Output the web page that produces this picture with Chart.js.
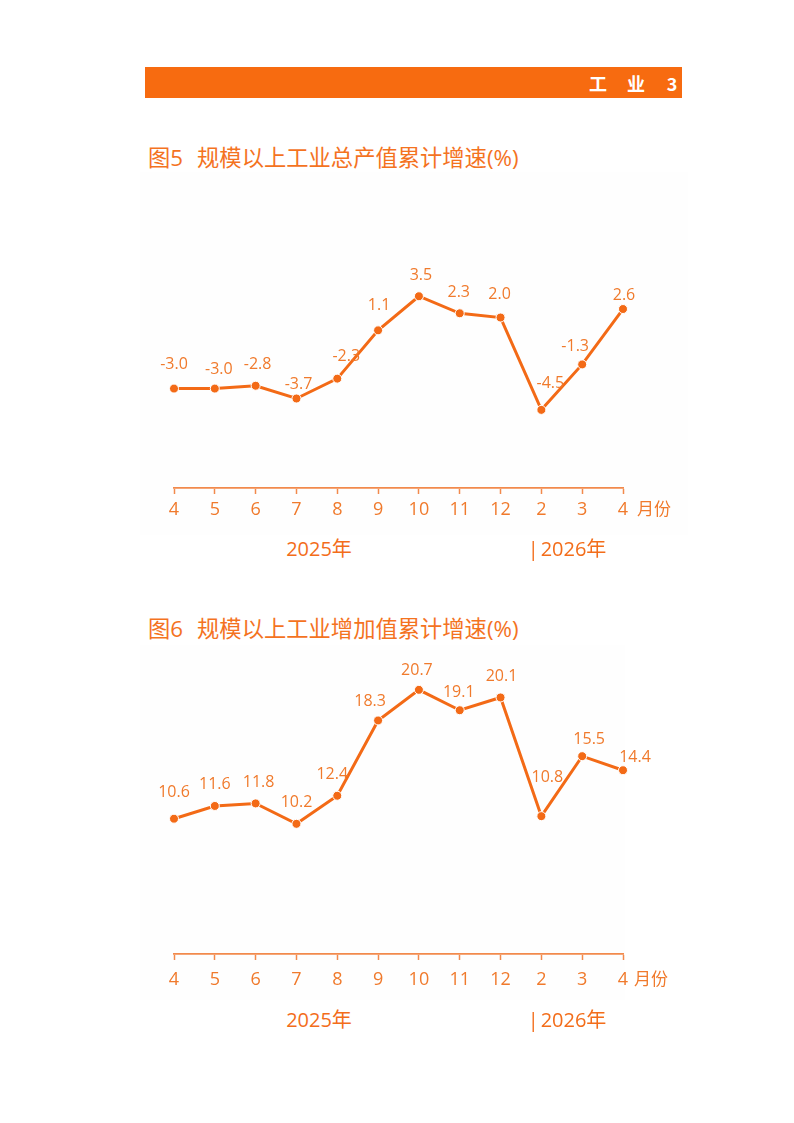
<!DOCTYPE html>
<html>
<head>
<meta charset="utf-8">
<script src="https://cdn.jsdelivr.net/npm/chart.js@4"></script>
<style>
  body { margin: 0; background: #fff; }
  #page { position: relative; width: 794px; height: 1123px; overflow: hidden;
          font-family: "Open Sans", "Noto Sans CJK SC", sans-serif; }
  .bar { position: absolute; left: 145px; top: 67px; width: 537px; height: 31px; background: #F76B10; }
  .t { position: absolute; transform: translate(-50%, -50%); white-space: nowrap; line-height: 1; }
  .head { color: #fff; font-weight: bold; font-size: 18px; font-family: "Noto Sans CJK SC", sans-serif; }
  .title { position: absolute; left: 148px; color: #F4731F; font-size: 22.3px; line-height: 1;
           transform: translateY(-50%); white-space: nowrap; }
  .title span { margin-left: 14px; }
  .unit { color: #F07A2C; font-size: 17px; }
  .year { color: #F36D1A; font-size: 20px; }
  .year b { font-weight: normal; margin-right: 2px; }
  .bg { position: absolute; background: #fefefe; }
  canvas { position: absolute; }
</style>
</head>
<body>
<div id="page">
  <div class="bar"></div>
  <div class="t head" style="left:598px; top:83px">工</div>
  <div class="t head" style="left:636px; top:83px">业</div>
  <div class="t head" style="left:672px; top:83px">3</div>

  <div class="title" style="top:158px">图5<span>规模以上工业总产值累计增速(%)</span></div>
  <div class="bg" style="left:140px; top:172px; width:548px; height:363px"></div>
  <canvas id="chart1" width="560" height="360" style="left:140px; top:170px; width:560px; height:360px"></canvas>
  <div class="t unit" style="left:654px; top:508px">月份</div>
  <div class="t year" style="left:319px; top:549px">2025年</div>
  <div class="t year" style="left:567px; top:549px"><b>|</b>2026年</div>

  <div class="title" style="top:629px">图6<span>规模以上工业增加值累计增速(%)</span></div>
  <div class="bg" style="left:140px; top:645px; width:485px; height:355px"></div>
  <canvas id="chart2" width="560" height="360" style="left:140px; top:640px; width:560px; height:360px"></canvas>
  <div class="t unit" style="left:651px; top:978px">月份</div>
  <div class="t year" style="left:319px; top:1020px">2025年</div>
  <div class="t year" style="left:567px; top:1020px"><b>|</b>2026年</div>
</div>

<script>
// 月份（2025年4月 — 2026年4月，1月无数据）
var months = ['4', '5', '6', '7', '8', '9', '10', '11', '12', '2', '3', '4'];

// 图5 规模以上工业总产值累计增速(%)
var outputGrowth = [-3.0, -3.0, -2.8, -3.7, -2.3, 1.1, 3.5, 2.3, 2.0, -4.5, -1.3, 2.6];

// 图6 规模以上工业增加值累计增速(%)
var addedValueGrowth = [10.6, 11.6, 11.8, 10.2, 12.4, 18.3, 20.7, 19.1, 20.1, 10.8, 15.5, 14.4];

// 数值标签相对点的偏移 [dx, dy]
var nudges1 = [[0,-24],[4,-19],[2,-21],[2,-14],[9,-22],[1,-25],[2,-21],[-1,-21],[-1,-23],[9,-26],[-7,-18],[1,-14]];
var nudges2 = [[0,-26],[0,-22],[3,-21],[0,-21],[-5,-21],[-8,-19],[-2,-19],[-1,-18],[1,-21],[6,-39],[7,-17],[12,-13]];

var ORANGE = '#F36A16';
var LABEL = '#F07A2C';
var FONT = '"Open Sans", "Noto Sans CJK SC", sans-serif';

// 在点上方绘制数值
var pointLabels = {
    id: 'pointLabels',
    afterDatasetsDraw: function(chart) {
        var opts = chart.options.plugins.pointLabels;
        var ctx = chart.ctx;
        var meta = chart.getDatasetMeta(0);
        var values = chart.data.datasets[0].data;
        ctx.save();
        ctx.font = '16px ' + FONT;
        ctx.fillStyle = LABEL;
        ctx.textAlign = 'center';
        ctx.textBaseline = 'middle';
        meta.data.forEach(function(pt, i) {
            var n = opts.nudges[i] || [0, -22];
            ctx.fillText(values[i].toFixed(1), pt.x + n[0], pt.y + n[1]);
        });
        ctx.restore();
    }
};

function makeChart(id, values, yMin, yMax, pad, tickPad, nudges) {
    var ctx = document.getElementById(id).getContext('2d');
    return new Chart(ctx, {
        type: 'line',
        data: {
            labels: months,
            datasets: [{
                data: values,
                borderColor: ORANGE,
                borderWidth: 3,
                backgroundColor: ORANGE,
                pointRadius: 4.5,
                pointBorderColor: '#ffffff',
                pointBorderWidth: 1,
                tension: 0,
                clip: false
            }]
        },
        options: {
            responsive: false,
            animation: false,
            layout: { padding: pad },
            plugins: {
                legend: { display: false },
                tooltip: { enabled: false },
                pointLabels: { nudges: nudges }
            },
            scales: {
                x: {
                    offset: false,
                    grid: {
                        drawOnChartArea: false,
                        drawTicks: true,
                        tickLength: 6,
                        tickColor: '#F28A4C',
                        tickWidth: 1.5
                    },
                    border: { display: true, color: '#F28A4C', width: 1.8 },
                    ticks: {
                        color: LABEL,
                        padding: tickPad,
                        maxRotation: 0,
                        autoSkip: false,
                        font: { family: FONT, size: 18 }
                    },
                    afterFit: function(scale) { scale.height = 40; }
                },
                y: {
                    display: false,
                    min: yMin,
                    max: yMax
                }
            }
        },
        plugins: [pointLabels]
    });
}

makeChart('chart1', outputGrowth, -10, 12, { top: 4.5, left: 34, right: 77, bottom: 2 }, 5, nudges1);
makeChart('chart2', addedValueGrowth, 0, 24, { top: 7.7, left: 34, right: 77, bottom: 6 }, 9, nudges2);
</script>
</body>
</html>
